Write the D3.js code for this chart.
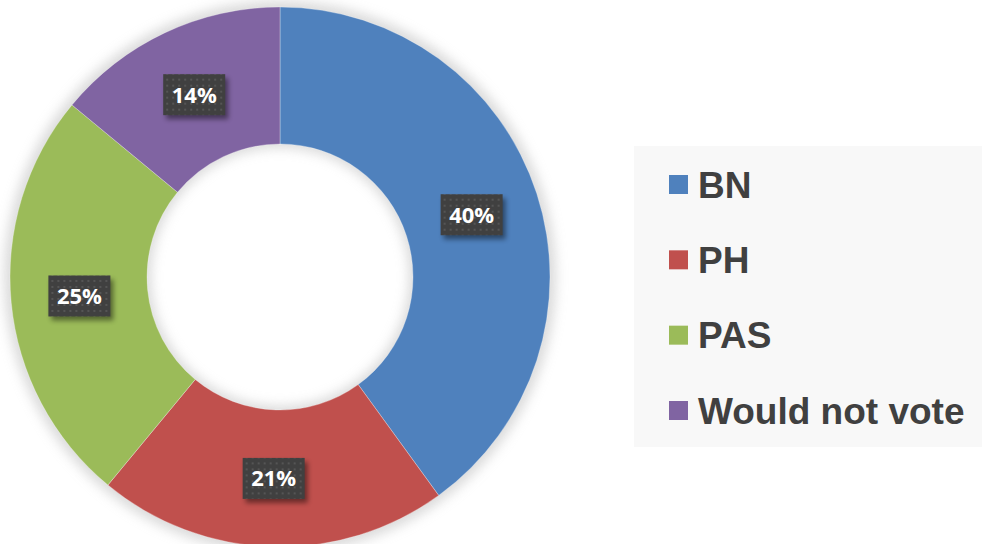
<!DOCTYPE html>
<html><head><meta charset="utf-8">
<script src="https://cdn.jsdelivr.net/npm/d3@7"></script>
<style>html,body{margin:0;padding:0;background:#fff;}svg{display:block;}</style>
</head><body>
<svg id="c" width="982" height="544"></svg>
<script>
const categories = ["BN", "PH", "PAS", "Would not vote"];
const values = [40, 21, 25, 14];
const colors = ["#4f81bd", "#c0504d", "#9bbb59", "#8064a2"];

const svg = d3.select("#c");
const cx = 280, cy = 277, R = 270, r = 133;

const defs = svg.append("defs");
const blur = defs.append("filter").attr("id","sh").attr("x","-20%").attr("y","-20%").attr("width","140%").attr("height","140%");
blur.append("feGaussianBlur").attr("stdDeviation", 6);
const pat = defs.append("pattern").attr("id","dots").attr("patternUnits","userSpaceOnUse").attr("width",6).attr("height",6);
pat.append("rect").attr("width",6).attr("height",6).attr("fill","#404040");
pat.append("rect").attr("x",2).attr("y",2).attr("width",2).attr("height",2).attr("fill","#555");
const bsh = defs.append("filter").attr("id","bsh").attr("x","-30%").attr("y","-30%").attr("width","160%").attr("height","160%");
bsh.append("feGaussianBlur").attr("stdDeviation", 2.5);

const g = svg.append("g").attr("transform", `translate(${cx},${cy})`);
g.append("path")
  .attr("d", d3.arc().innerRadius(r-4).outerRadius(R+6).startAngle(0).endAngle(2*Math.PI)())
  .attr("fill","#bdbdbd").attr("opacity",0.55).attr("filter","url(#sh)");

const pie = d3.pie().sort(null).value(d => d)(values);
const arc = d3.arc().innerRadius(r).outerRadius(R);
g.selectAll("path.s").data(pie).join("path").attr("class","s")
  .attr("d", arc).attr("fill", (d,i) => colors[i])
  .attr("stroke","#fff").attr("stroke-width",0.6).attr("stroke-opacity",0.5);

const lab = d3.arc().innerRadius((R+r)/2).outerRadius((R+r)/2);
const lw = 62, lh = 41;
const lg = g.selectAll("g.l").data(pie).join("g").attr("class","l")
  .attr("transform", d => { const [x,y] = lab.centroid(d); return `translate(${x},${y})`; });
lg.append("rect").attr("x",-lw/2+3).attr("y",-lh/2+4).attr("width",lw).attr("height",lh)
  .attr("fill","#000").attr("opacity",0.45).attr("filter","url(#bsh)");
lg.append("rect").attr("x",-lw/2).attr("y",-lh/2).attr("width",lw).attr("height",lh).attr("fill","url(#dots)");
lg.append("text").attr("text-anchor","middle").attr("dy","0.36em")
  .attr("font-family","'Open Sans', sans-serif").attr("font-weight",700).attr("font-size",22)
  .attr("fill","#fff").text(d => d.data + "%");

const leg = svg.append("g");
leg.append("rect").attr("x",634).attr("y",146).attr("width",348).attr("height",301).attr("fill","#f8f8f8");
const ly = d3.scalePoint().domain(categories).range([184.5, 410.5]);
const li = leg.selectAll("g.li").data(categories).join("g").attr("class","li")
  .attr("transform", d => `translate(669,${ly(d)})`);
li.append("rect").attr("x",0).attr("y",-9.5).attr("width",19).attr("height",19).attr("fill",(d,i)=>colors[i]);
li.append("text").attr("x",29).attr("dy","0.36em")
  .attr("font-family","'Liberation Sans', Arial, sans-serif").attr("font-weight",700).attr("font-size",37)
  .attr("fill","#404040").text(d => d);
</script>
</body></html>
